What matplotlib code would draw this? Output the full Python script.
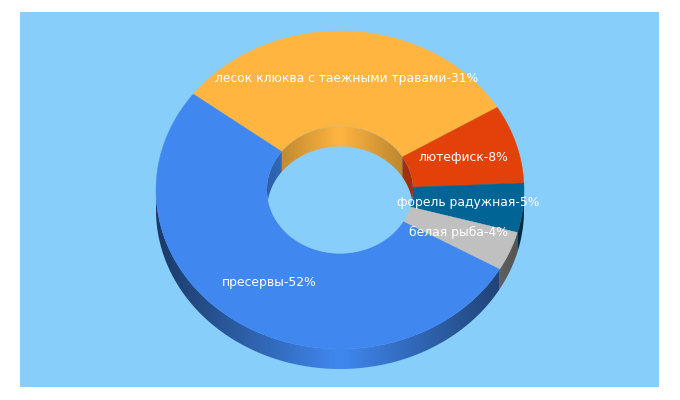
import numpy as np
import matplotlib
matplotlib.use("Agg")
import matplotlib.pyplot as plt
from matplotlib.patches import Polygon, Rectangle, Ellipse
from matplotlib.colors import to_rgb

labels = ["лесок клюква с таежными травами", "лютефиск", "форель радужная", "белая рыба", "пресервы"]
shares = [31, 8, 5, 4, 52]
colors = ["#FFB540", "#E24109", "#006495", "#C0C0C0", "#4088F0"]

SKY = "#87CEFA"
START = 142.9
CX, CY, RX, RY, IRX, IRY, DEPTH = 340, 190, 184, 159, 73, 63.5, 20
LABEL_R = 0.70

fig = plt.figure(figsize=(6.8, 4.0), dpi=100, facecolor="white")
ax = fig.add_axes([0, 0, 1, 1])
ax.axis("off")
ax.add_patch(Rectangle((20, 12), 639, 375, fc=SKY, ec="none", zorder=0))

total = sum(shares)
spans = []
a = START
for s in shares:
    b = a - 360 * s / total
    spans.append((b, a))
    a = b


def pt(theta, rx, ry):
    t = np.radians(theta)
    return CX + rx * np.cos(t), CY - ry * np.sin(t)


def wall(lo, hi, rx, ry, col, strength, inside_hole=False, z=1):
    """One piece of a ring wall, shaded across x from the centre of the ring."""
    if hi <= lo:
        return
    th = np.linspace(lo, hi, 200)
    tx, ty = pt(th, rx, ry)
    by = ty + DEPTH
    if inside_hole:
        # the lower edge of the back wall stops at the rim of the hole
        by = np.minimum(by, CY + ry * np.sqrt(np.clip(1 - ((tx - CX) / rx) ** 2, 0, 1)))
    verts = np.vstack([np.column_stack([tx, ty]), np.column_stack([tx[::-1], by[::-1]])])
    x0, x1 = np.floor(tx.min()) - 1, np.ceil(tx.max()) + 1
    xs = np.arange(x0, x1, 0.5) + 0.25
    f = 1 - strength * np.clip(np.abs(xs - CX) / rx, 0, 1)
    img = (np.array(to_rgb(col))[None, :] * f[:, None])[None, :, :]
    y0, y1 = verts[:, 1].min() - 1, verts[:, 1].max() + 1
    im = ax.imshow(img, extent=(x0, x1, y1, y0), aspect="auto", interpolation="nearest", zorder=z)
    outline = Polygon(verts, closed=True, fc="none", ec="none")
    ax.add_patch(outline)
    im.set_clip_path(outline)


# outer wall (front half of the ring)
for (lo, hi), c in zip(spans, colors):
    for shift in (-360, 0):
        wall(max(lo + shift, -180), min(hi + shift, 0), RX, RY, c, 0.58, z=1)

# top face
for (lo, hi), c in zip(spans, colors):
    th = np.linspace(lo, hi, 200)
    outer = np.column_stack(pt(th, RX, RY))
    inner = np.column_stack(pt(th[::-1], IRX, IRY))
    ax.add_patch(Polygon(np.vstack([outer, inner]), closed=True, fc=c, ec=c, lw=0.3, zorder=2))

# hole and its back wall
ax.add_patch(Ellipse((CX, CY), 2 * IRX, 2 * IRY, fc=SKY, ec="none", zorder=3))
for (lo, hi), c in zip(spans, colors):
    for shift in (0, 360):
        wall(max(lo + shift, 0), min(hi + shift, 180), IRX, IRY, c, 0.30, inside_hole=True, z=4)

# labels on the ring
for (lo, hi), name, s in zip(spans, labels, shares):
    x, y = pt((lo + hi) / 2, RX * LABEL_R, RY * LABEL_R)
    ax.text(x, y, f"{name}-{s}%", color="white", fontsize=8.9, ha="center", va="center",
            family="DejaVu Sans", zorder=6)

ax.set_xlim(0, 680)
ax.set_ylim(400, 0)
fig.savefig("out.png", dpi=100, facecolor="white")
